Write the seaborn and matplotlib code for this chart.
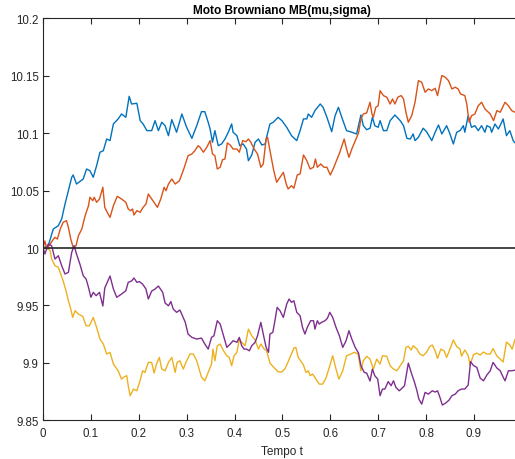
import matplotlib
matplotlib.use("Agg")
import matplotlib.pyplot as plt
import seaborn as sns
import pandas as pd

# ---- data ----
t_blue = [0, 0.011, 0.0215, 0.032, 0.039, 0.046, 0.053, 0.060, 0.063, 0.070, 0.084, 0.091, 0.098, 0.105, 0.112,
          0.119, 0.126, 0.133, 0.140, 0.147, 0.157, 0.164, 0.173, 0.180, 0.185, 0.196, 0.203, 0.209, 0.217, 0.227,
          0.234, 0.241, 0.248, 0.255, 0.262, 0.269, 0.279, 0.290, 0.300, 0.311, 0.321, 0.331, 0.338, 0.345, 0.349,
          0.354, 0.359, 0.366, 0.373, 0.380, 0.387, 0.394, 0.397, 0.405, 0.411, 0.418, 0.425, 0.429, 0.436, 0.443,
          0.450, 0.457, 0.464, 0.467, 0.474, 0.481, 0.491, 0.499, 0.509, 0.519, 0.530, 0.537, 0.544, 0.551, 0.554,
          0.561, 0.568, 0.579, 0.585, 0.593, 0.603, 0.610, 0.617, 0.624, 0.634, 0.645, 0.655, 0.664, 0.669, 0.676,
          0.683, 0.688, 0.693, 0.700, 0.704, 0.711, 0.718, 0.725, 0.735, 0.746, 0.753, 0.760, 0.767, 0.773, 0.777,
          0.784, 0.794, 0.801, 0.812, 0.819, 0.826, 0.833, 0.843, 0.850, 0.857, 0.864, 0.871, 0.878, 0.881, 0.888,
          0.895, 0.902, 0.909, 0.916, 0.923, 0.927, 0.934, 0.937, 0.944, 0.951, 0.958, 0.961, 0.968, 0.975, 0.982,
          0.986]
v_blue = [10.000, 10.002, 10.0166, 10.0194, 10.0253, 10.0383, 10.0499, 10.0616, 10.0636, 10.0557, 10.0601,
          10.0688, 10.0673, 10.0616, 10.0717, 10.0834, 10.0847, 10.0949, 10.0935, 10.108, 10.1124, 10.1167,
          10.1138, 10.1321, 10.1254, 10.126, 10.1109, 10.108, 10.1022, 10.1022, 10.1109, 10.1022, 10.1095,
          10.1065, 10.0978, 10.1118, 10.1008, 10.1167, 10.1051, 10.0955, 10.1065, 10.1187, 10.1187, 10.1095,
          10.1036, 10.0921, 10.1022, 10.0891, 10.0906, 10.0949, 10.1008, 10.108, 10.1008, 10.0978, 10.0891,
          10.0906, 10.0862, 10.076, 10.081, 10.0921, 10.0949, 10.0897, 10.0906, 10.0964, 10.108, 10.1095,
          10.1138, 10.1109, 10.1051, 10.0978, 10.0935, 10.1022, 10.1124, 10.1124, 10.1167, 10.1138, 10.1196,
          10.1254, 10.1225, 10.1138, 10.1013, 10.1152, 10.1225, 10.1138, 10.1022, 10.1008, 10.0993, 10.1158,
          10.1065, 10.103, 10.1043, 10.1138, 10.1065, 10.1051, 10.1109, 10.1022, 10.1022, 10.1109, 10.1158,
          10.1109, 10.1065, 10.0955, 10.0949, 10.0993, 10.0935, 10.0964, 10.1043, 10.1013, 10.0935, 10.1008,
          10.1071, 10.0993, 10.1065, 10.0993, 10.0906, 10.1008, 10.1022, 10.1065, 10.1008, 10.1152, 10.1051,
          10.1065, 10.1022, 10.1065, 10.1008, 10.1065, 10.1051, 10.1008, 10.108, 10.1036, 10.1095, 10.1124,
          10.0978, 10.1022, 10.0935, 10.0915]

t_red = [0, 0.004, 0.008, 0.015, 0.022, 0.025, 0.030, 0.036, 0.042, 0.049, 0.053, 0.058, 0.063, 0.069, 0.074,
         0.081, 0.088, 0.095, 0.098, 0.104, 0.107, 0.112, 0.118, 0.125, 0.129, 0.136, 0.140, 0.147, 0.155, 0.164,
         0.173, 0.178, 0.183, 0.187, 0.190, 0.196, 0.203, 0.209, 0.215, 0.220, 0.227, 0.234, 0.239, 0.246, 0.253,
         0.257, 0.262, 0.269, 0.276, 0.285, 0.294, 0.303, 0.311, 0.317, 0.324, 0.328, 0.335, 0.342, 0.349, 0.354,
         0.359, 0.364, 0.370, 0.375, 0.380, 0.385, 0.391, 0.397, 0.405, 0.410, 0.417, 0.424, 0.429, 0.434, 0.441,
         0.448, 0.455, 0.460, 0.466, 0.469, 0.476, 0.482, 0.488, 0.495, 0.502, 0.508, 0.512, 0.519, 0.524, 0.531,
         0.537, 0.544, 0.551, 0.558, 0.565, 0.569, 0.573, 0.580, 0.587, 0.593, 0.600, 0.606, 0.613, 0.620, 0.629,
         0.634, 0.639, 0.645, 0.652, 0.659, 0.664, 0.669, 0.676, 0.683, 0.687, 0.690, 0.695, 0.700, 0.704, 0.711,
         0.718, 0.725, 0.730, 0.735, 0.741, 0.748, 0.753, 0.758, 0.763, 0.770, 0.777, 0.784, 0.791, 0.798, 0.805,
         0.812, 0.819, 0.824, 0.833, 0.840, 0.847, 0.854, 0.861, 0.867, 0.872, 0.881, 0.885, 0.890, 0.895, 0.902,
         0.909, 0.916, 0.923, 0.934, 0.941, 0.948, 0.955, 0.965, 0.972, 0.979, 0.986]
v_red = [10.000, 10.0061, 9.9991, 10.0035, 10.0078, 10.0093, 10.0078, 10.0165, 10.0224, 10.0238, 10.018,
         10.0078, 10.0006, 10.002, 10.0107, 10.0165, 10.0281, 10.0368, 10.0442, 10.0412, 10.0442, 10.0398,
         10.0427, 10.0529, 10.0354, 10.0296, 10.0267, 10.0368, 10.045, 10.0427, 10.0398, 10.034, 10.0325,
         10.034, 10.0287, 10.0325, 10.0311, 10.0354, 10.0383, 10.047, 10.0427, 10.0383, 10.0354, 10.0427,
         10.0529, 10.0499, 10.0557, 10.0601, 10.0557, 10.0586, 10.0688, 10.0804, 10.0819, 10.0847, 10.0891,
         10.0877, 10.0834, 10.0877, 10.0935, 10.0819, 10.0804, 10.0688, 10.0703, 10.0769, 10.0775, 10.0915,
         10.0897, 10.0862, 10.0862, 10.0834, 10.0935, 10.0926, 10.0949, 10.0921, 10.0862, 10.0819, 10.0703,
         10.0732, 10.0949, 10.0964, 10.0804, 10.0673, 10.0572, 10.0616, 10.0659, 10.0557, 10.0514, 10.0543,
         10.052, 10.0636, 10.0645, 10.081, 10.076, 10.0688, 10.0703, 10.0775, 10.0703, 10.0732, 10.0703,
         10.0703, 10.0636, 10.0688, 10.076, 10.0834, 10.0949, 10.0862, 10.079, 10.0862, 10.0932, 10.1002,
         10.1124, 10.1167, 10.1176, 10.1269, 10.1167, 10.1138, 10.1225, 10.1239, 10.137, 10.1327, 10.1313,
         10.1254, 10.1298, 10.1254, 10.1313, 10.1327, 10.1298, 10.1182, 10.1095, 10.1152, 10.1269, 10.1457,
         10.1443, 10.1356, 10.1385, 10.137, 10.1391, 10.1327, 10.1502, 10.1487, 10.1457, 10.1385, 10.14,
         10.1385, 10.1341, 10.1327, 10.1254, 10.1095, 10.1152, 10.1167, 10.1239, 10.1269, 10.1211, 10.1167,
         10.1109, 10.1196, 10.1182, 10.1269, 10.1239, 10.1196, 10.1182]

t_yellow = [0, 0.008, 0.015, 0.018, 0.025, 0.032, 0.037, 0.042, 0.048, 0.053, 0.058, 0.062, 0.067, 0.074, 0.083,
            0.090, 0.097, 0.105, 0.112, 0.119, 0.126, 0.133, 0.140, 0.147, 0.157, 0.164, 0.171, 0.175, 0.178,
            0.182, 0.189, 0.196, 0.203, 0.208, 0.213, 0.220, 0.227, 0.232, 0.237, 0.243, 0.248, 0.255, 0.262,
            0.269, 0.276, 0.280, 0.286, 0.293, 0.300, 0.307, 0.314, 0.321, 0.326, 0.331, 0.338, 0.345, 0.352,
            0.355, 0.359, 0.364, 0.370, 0.377, 0.384, 0.389, 0.394, 0.399, 0.405, 0.410, 0.415, 0.422, 0.429,
            0.436, 0.443, 0.450, 0.455, 0.462, 0.467, 0.474, 0.482, 0.491, 0.498, 0.505, 0.510, 0.517, 0.524,
            0.528, 0.533, 0.544, 0.549, 0.554, 0.558, 0.563, 0.570, 0.577, 0.584, 0.591, 0.598, 0.605, 0.612,
            0.618, 0.626, 0.634, 0.643, 0.650, 0.658, 0.664, 0.669, 0.676, 0.683, 0.690, 0.697, 0.704, 0.709,
            0.718, 0.725, 0.732, 0.739, 0.746, 0.753, 0.758, 0.763, 0.769, 0.773, 0.781, 0.787, 0.794, 0.801,
            0.808, 0.813, 0.819, 0.824, 0.831, 0.838, 0.843, 0.850, 0.857, 0.864, 0.871, 0.874, 0.881, 0.888,
            0.892, 0.899, 0.906, 0.913, 0.920, 0.927, 0.934, 0.940, 0.948, 0.955, 0.961, 0.968, 0.975, 0.980,
            0.986]
v_yellow = [10.000, 10.0006, 9.9976, 9.9904, 9.9846, 9.9832, 9.9774, 9.9715, 9.9628, 9.9541, 9.9469, 9.9396,
            9.9454, 9.9425, 9.9405, 9.9323, 9.9323, 9.9396, 9.9309, 9.9207, 9.9164, 9.9077, 9.9092, 9.899,
            9.8931, 9.8859, 9.8882, 9.8888, 9.8801, 9.8714, 9.8772, 9.8757, 9.885, 9.8931, 9.8917, 9.9004,
            9.9004, 9.8911, 9.899, 9.9048, 9.8946, 9.8931, 9.9004, 9.9048, 9.8917, 9.9004, 9.9018, 9.8946,
            9.9018, 9.9077, 9.9077, 9.9018, 9.8946, 9.8876, 9.8844, 9.8917, 9.899, 9.912, 9.9018, 9.9149,
            9.9164, 9.9105, 9.9062, 9.9048, 9.8975, 9.9062, 9.9092, 9.9207, 9.9179, 9.9149, 9.9294, 9.9236,
            9.9199, 9.912, 9.9164, 9.912, 9.9105, 9.8998, 9.8961, 9.8923, 9.892, 9.8946, 9.899, 9.9059, 9.9129,
            9.9135, 9.9048, 9.8981, 9.8917, 9.8931, 9.8888, 9.8903, 9.8859, 9.8815, 9.8815, 9.8868, 9.8961,
            9.9062, 9.8946, 9.8859, 9.8931, 9.9062, 9.9077, 9.9092, 9.9077, 9.8931, 9.9018, 9.9057, 9.9033,
            9.8946, 9.9033, 9.899, 9.9062, 9.9057, 9.8975, 9.8946, 9.8931, 9.8975, 9.9018, 9.9135, 9.9144,
            9.9112, 9.9149, 9.912, 9.9077, 9.9062, 9.9092, 9.9144, 9.9155, 9.9105, 9.9039, 9.912, 9.9103,
            9.9048, 9.912, 9.9199, 9.9142, 9.912, 9.9059, 9.9112, 9.9064, 9.8981, 9.9072, 9.9085, 9.9068,
            9.9094, 9.9077, 9.9077, 9.9125, 9.9059, 9.9033, 9.9007, 9.9181, 9.9155, 9.912, 9.9207]

t_purple = [0, 0.004, 0.011, 0.018, 0.025, 0.032, 0.039, 0.046, 0.053, 0.060, 0.065, 0.070, 0.077, 0.084, 0.090,
            0.095, 0.100, 0.105, 0.111, 0.118, 0.125, 0.129, 0.140, 0.147, 0.154, 0.164, 0.173, 0.178, 0.185,
            0.190, 0.196, 0.201, 0.208, 0.215, 0.220, 0.227, 0.234, 0.241, 0.250, 0.255, 0.262, 0.267, 0.272,
            0.279, 0.286, 0.297, 0.303, 0.311, 0.321, 0.331, 0.338, 0.345, 0.352, 0.357, 0.364, 0.370, 0.375,
            0.384, 0.391, 0.397, 0.405, 0.410, 0.415, 0.420, 0.425, 0.431, 0.436, 0.443, 0.448, 0.455, 0.460,
            0.466, 0.471, 0.474, 0.480, 0.485, 0.489, 0.495, 0.502, 0.509, 0.514, 0.519, 0.524, 0.530, 0.537,
            0.542, 0.547, 0.552, 0.559, 0.565, 0.568, 0.573, 0.577, 0.582, 0.589, 0.594, 0.599, 0.605, 0.612,
            0.619, 0.626, 0.633, 0.639, 0.645, 0.652, 0.659, 0.664, 0.671, 0.676, 0.683, 0.688, 0.693, 0.699,
            0.704, 0.709, 0.714, 0.721, 0.727, 0.732, 0.737, 0.744, 0.748, 0.755, 0.763, 0.770, 0.776, 0.781,
            0.785, 0.791, 0.798, 0.805, 0.813, 0.819, 0.824, 0.829, 0.834, 0.841, 0.848, 0.854, 0.861, 0.867,
            0.874, 0.881, 0.888, 0.893, 0.899, 0.906, 0.913, 0.920, 0.927, 0.934, 0.940, 0.948, 0.955, 0.961,
            0.965, 0.972, 0.979, 0.986]
v_purple = [10.000, 9.9948, 10.0035, 10.002, 9.9904, 9.9933, 9.9846, 9.9774, 9.9788, 9.9963, 10.002, 9.9948,
            9.9861, 9.9759, 9.973, 9.9658, 9.9571, 9.9614, 9.9585, 9.9614, 9.9495, 9.9652, 9.9756, 9.9643,
            9.9571, 9.9599, 9.9628, 9.9701, 9.9713, 9.9739, 9.9701, 9.9708, 9.9686, 9.9643, 9.9556, 9.9625,
            9.9643, 9.9669, 9.9614, 9.9521, 9.9497, 9.9534, 9.9469, 9.944, 9.946, 9.9355, 9.9251, 9.9222,
            9.9207, 9.9216, 9.9164, 9.912, 9.9222, 9.9236, 9.9367, 9.9338, 9.9266, 9.9135, 9.9164, 9.9193,
            9.9179, 9.9222, 9.9149, 9.912, 9.912, 9.9105, 9.9149, 9.9179, 9.9236, 9.9353, 9.9251, 9.9135,
            9.9092, 9.9251, 9.9266, 9.9382, 9.9483, 9.9454, 9.9396, 9.9512, 9.9556, 9.9527, 9.9541, 9.944,
            9.941, 9.9309, 9.9251, 9.9309, 9.9367, 9.9367, 9.9294, 9.9367, 9.9338, 9.9353, 9.9367, 9.9388,
            9.944, 9.9396, 9.9309, 9.9236, 9.9135, 9.9193, 9.928, 9.9207, 9.9135, 9.9085, 9.8975, 9.8917,
            9.8911, 9.8842, 9.8946, 9.8888, 9.8859, 9.8714, 9.8772, 9.8772, 9.8837, 9.8801, 9.8844, 9.8787,
            9.8757, 9.8772, 9.8801, 9.8998, 9.8903, 9.883, 9.8757, 9.8685, 9.8641, 9.8743, 9.8728, 9.8757,
            9.8746, 9.8757, 9.87, 9.8633, 9.865, 9.8676, 9.8714, 9.8728, 9.8757, 9.8772, 9.8772, 9.8807,
            9.9011, 9.8977, 9.8961, 9.8868, 9.8844, 9.8894, 9.8931, 9.9004, 9.8955, 9.8931, 9.8876, 9.8844,
            9.8931, 9.8931, 9.8937]

reference_level = 10.0
x_ticks = [0, 0.1, 0.2, 0.3, 0.4, 0.5, 0.6, 0.7, 0.8, 0.9]
x_tick_labels = ["0", "0.1", "0.2", "0.3", "0.4", "0.5", "0.6", "0.7", "0.8", "0.9"]
y_ticks = [9.85, 9.9, 9.95, 10.0, 10.05, 10.1, 10.15, 10.2]
y_tick_labels = ["9.85", "9.9", "9.95", "10", "10.05", "10.1", "10.15", "10.2"]
title_text = "Moto Browniano MB(mu,sigma)"
xlabel_text = "Tempo t"

series = [
    (t_blue, v_blue, "#0072BD"),
    (t_red, v_red, "#D95319"),
    (t_yellow, v_yellow, "#EDB120"),
    (t_purple, v_purple, "#7E2F8E"),
]

# ---- drawing ----
sns.set_style("ticks")
plt.rcParams["font.family"] = ["Liberation Sans", "DejaVu Sans"]

W, H = 515, 460
fig = plt.figure(figsize=(W / 100, H / 100), dpi=100)
ax_left, ax_right, ax_top, ax_bottom = 43, 521.8, 19.3, 421.3
ax = fig.add_axes([ax_left / W, 1 - ax_bottom / H, (ax_right - ax_left) / W, (ax_bottom - ax_top) / H])

for t, v, col in series:
    df = pd.DataFrame({"t": t, "v": v})
    sns.lineplot(data=df, x="t", y="v", ax=ax, color=col, linewidth=1.0, sort=False, estimator=None)

ax.axhline(reference_level, color="#262626", linewidth=1.2)

ax.set_xlim(0, 1)
ax.set_ylim(9.85, 10.2)
ax.set_xticks(x_ticks)
ax.set_xticklabels(x_tick_labels)
ax.set_yticks(y_ticks)
ax.set_yticklabels(y_tick_labels)

edge = "#262626"
for s in ax.spines.values():
    s.set_color(edge)
    s.set_linewidth(0.8)
ax.tick_params(direction="in", length=4, width=0.8, colors=edge, labelsize=8.3,
               top=True, right=True, pad=3)
ax.tick_params(axis="x", pad=5)
ax.set_xlabel(xlabel_text, fontsize=8.5, color=edge, labelpad=4)
ax.set_ylabel("")
ax.set_title(title_text, fontsize=8.6, fontweight="bold", color="black", pad=4)

fig.savefig("out.png", dpi=100)
